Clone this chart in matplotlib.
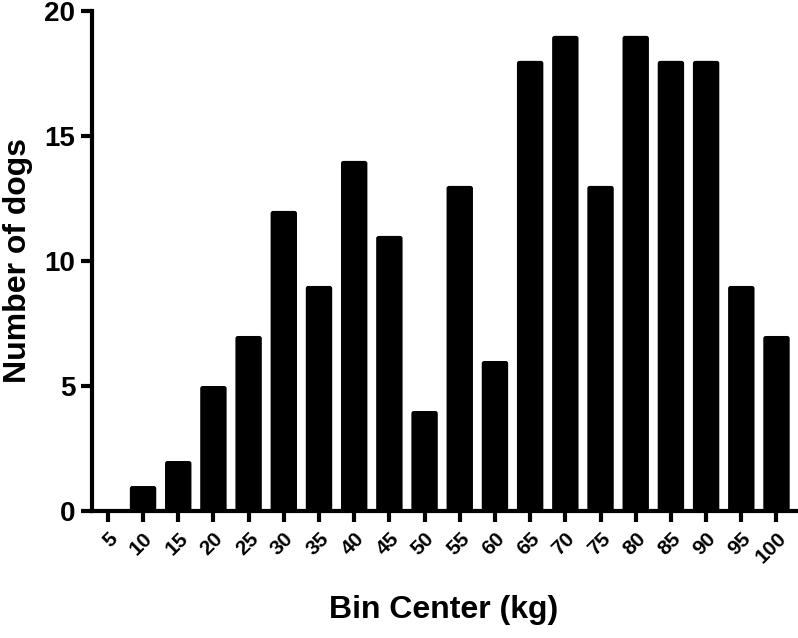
import matplotlib
matplotlib.use("Agg")
import matplotlib.pyplot as plt
from matplotlib.patches import FancyBboxPatch
import numpy as np

plt.rcParams['font.family'] = ['Liberation Sans', 'DejaVu Sans']
plt.rcParams['font.weight'] = 'bold'

bin_centers = [5, 10, 15, 20, 25, 30, 35, 40, 45, 50, 55, 60, 65, 70, 75, 80, 85, 90, 95, 100]
counts = [0, 1, 2, 5, 7, 12, 9, 14, 11, 4, 13, 6, 18, 19, 13, 19, 18, 18, 9, 7]
y_ticks = [0, 5, 10, 15, 20]

fig = plt.figure(figsize=(7.98, 6.38), dpi=100)
ax = fig.add_axes([0.1153, 0.199, 0.882, 0.784])

x = np.arange(len(bin_centers))
bars = ax.bar(x, counts, width=0.75, color='black', edgecolor='none')

ax.set_xlim(-0.45, 19.55)
ax.set_ylim(0, 20)

# round the top corners slightly
for r in bars.patches:
    if r.get_height() <= 0:
        continue
    fb = FancyBboxPatch((r.get_x(), r.get_y()), r.get_width(), r.get_height(),
                        boxstyle="round,pad=0,rounding_size=0.07",
                        mutation_aspect=1.41, facecolor='black',
                        edgecolor='none', zorder=r.get_zorder())
    r.set_visible(False)
    ax.add_patch(fb)

ax.set_yticks(y_ticks)
ax.set_xticks(x)
ax.set_xticklabels([str(b) for b in bin_centers], rotation=45, ha='right',
                   rotation_mode='anchor', fontsize=15, fontweight='bold')
ax.set_yticklabels([str(t) for t in y_ticks], fontsize=20, fontweight='bold')

for s in ['top', 'right']:
    ax.spines[s].set_visible(False)
for s in ['left', 'bottom']:
    ax.spines[s].set_linewidth(3)
ax.tick_params(axis='both', width=3, length=8, direction='out')
ax.tick_params(axis='x', pad=5)
ax.tick_params(axis='y', pad=4)

ax.set_xlabel('Bin Center (kg)', fontsize=23, fontweight='bold', labelpad=20)
ax.set_ylabel('Number of dogs', fontsize=23, fontweight='bold', labelpad=8)

fig.savefig('out.png', dpi=100)
